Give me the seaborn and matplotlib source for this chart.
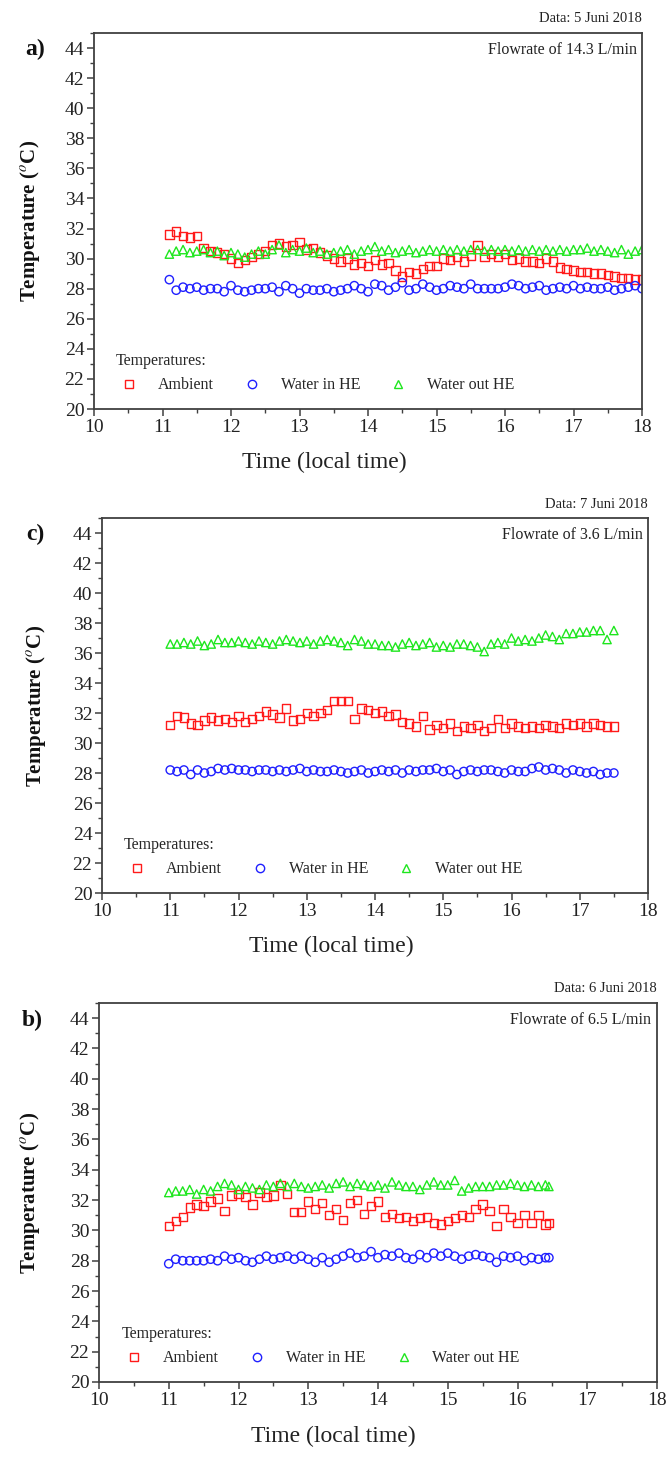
import numpy as np
import pandas as pd
import matplotlib
matplotlib.use("Agg")
import matplotlib.pyplot as plt
from matplotlib.lines import Line2D
from matplotlib.ticker import MultipleLocator
import seaborn as sns

# ---------------- data ----------------
time_a = [11.1, 11.2, 11.3, 11.4, 11.5, 11.6, 11.7, 11.8, 11.9, 12.0,
          12.1, 12.2, 12.3, 12.4, 12.5, 12.6, 12.7, 12.8, 12.9, 13.0,
          13.1, 13.2, 13.3, 13.4, 13.5, 13.6, 13.7, 13.8, 13.9, 14.0,
          14.1, 14.2, 14.3, 14.4, 14.5, 14.6, 14.7, 14.8, 14.9, 15.0,
          15.1, 15.2, 15.3, 15.4, 15.5, 15.6, 15.7, 15.8, 15.9, 16.0,
          16.1, 16.2, 16.3, 16.4, 16.5, 16.6, 16.7, 16.8, 16.9, 17.0,
          17.1, 17.2, 17.3, 17.4, 17.5, 17.6, 17.7, 17.8, 17.9, 18.0]
ambient_a = [31.6, 31.8, 31.5, 31.4, 31.5, 30.7, 30.5, 30.4, 30.3, 30.0,
             29.7, 29.9, 30.1, 30.3, 30.5, 30.9, 31.0, 30.8, 30.9, 31.1,
             30.6, 30.7, 30.4, 30.2, 30.0, 29.8, 30.0, 29.6, 29.7, 29.5,
             29.9, 29.6, 29.7, 29.2, 28.8, 29.1, 29.0, 29.3, 29.5, 29.5,
             30.0, 29.9, 30.1, 29.8, 30.2, 30.9, 30.1, 30.3, 30.1, 30.3,
             29.9, 30.0, 29.8, 29.8, 29.7, 30.0, 29.8, 29.4, 29.3, 29.2,
             29.1, 29.1, 29.0, 29.0, 28.9, 28.8, 28.7, 28.7, 28.6, 28.6]
water_in_a = [28.6, 27.9, 28.1, 28.0, 28.1, 27.9, 28.0, 28.0, 27.8, 28.2,
              27.9, 27.8, 27.9, 28.0, 28.0, 28.1, 27.8, 28.2, 28.0, 27.7,
              28.0, 27.9, 27.9, 28.0, 27.8, 27.9, 28.0, 28.2, 28.0, 27.8,
              28.3, 28.2, 27.9, 28.1, 28.4, 27.9, 28.0, 28.3, 28.1, 27.9,
              28.0, 28.2, 28.1, 28.0, 28.3, 28.0, 28.0, 28.0, 28.0, 28.1,
              28.3, 28.2, 28.0, 28.1, 28.2, 27.9, 28.0, 28.1, 28.0, 28.2,
              28.0, 28.1, 28.0, 28.0, 28.1, 27.9, 28.0, 28.1, 28.2, 28.0]
water_out_a = [30.3, 30.5, 30.6, 30.4, 30.5, 30.6, 30.4, 30.5, 30.2, 30.4,
               30.3, 30.1, 30.3, 30.5, 30.3, 30.6, 30.9, 30.4, 30.6, 30.5,
               30.7, 30.4, 30.5, 30.3, 30.4, 30.5, 30.6, 30.3, 30.5, 30.6,
               30.8, 30.5, 30.6, 30.4, 30.5, 30.6, 30.4, 30.5, 30.6, 30.5,
               30.6, 30.5, 30.6, 30.5, 30.6, 30.6, 30.5, 30.6, 30.5, 30.6,
               30.5, 30.6, 30.5, 30.6, 30.5, 30.6, 30.5, 30.6, 30.5, 30.6,
               30.6, 30.7, 30.5, 30.6, 30.5, 30.4, 30.6, 30.3, 30.5, 30.6]

time_c = [11.0, 11.1, 11.2, 11.3, 11.4, 11.5, 11.6, 11.7, 11.8, 11.9,
          12.0, 12.1, 12.2, 12.3, 12.4, 12.5, 12.6, 12.7, 12.8, 12.9,
          13.0, 13.1, 13.2, 13.3, 13.4, 13.5, 13.6, 13.7, 13.8, 13.9,
          14.0, 14.1, 14.2, 14.3, 14.4, 14.5, 14.6, 14.7, 14.8, 14.9,
          15.0, 15.1, 15.2, 15.3, 15.4, 15.5, 15.6, 15.7, 15.8, 15.9,
          16.0, 16.1, 16.2, 16.3, 16.4, 16.5, 16.6, 16.7, 16.8, 16.9,
          17.0, 17.1, 17.2, 17.3, 17.4, 17.5]
ambient_c = [31.2, 31.8, 31.7, 31.3, 31.2, 31.5, 31.7, 31.5, 31.6, 31.4,
             31.8, 31.4, 31.6, 31.8, 32.1, 31.9, 31.7, 32.3, 31.5, 31.6,
             32.0, 31.8, 32.0, 32.2, 32.8, 32.8, 32.8, 31.6, 32.3, 32.2,
             32.0, 32.1, 31.8, 31.9, 31.4, 31.3, 31.1, 31.8, 30.9, 31.2,
             31.0, 31.3, 30.8, 31.1, 31.0, 31.2, 30.8, 31.0, 31.6, 31.0,
             31.3, 31.1, 31.0, 31.1, 31.0, 31.2, 31.1, 31.0, 31.3, 31.2,
             31.3, 31.1, 31.3, 31.2, 31.1, 31.1]
water_in_c = [28.2, 28.1, 28.2, 27.9, 28.2, 28.0, 28.1, 28.3, 28.2, 28.3,
              28.2, 28.2, 28.1, 28.2, 28.2, 28.1, 28.2, 28.1, 28.2, 28.3,
              28.1, 28.2, 28.1, 28.1, 28.2, 28.1, 28.0, 28.1, 28.2, 28.0,
              28.1, 28.2, 28.1, 28.2, 28.0, 28.2, 28.1, 28.2, 28.2, 28.3,
              28.1, 28.2, 27.9, 28.1, 28.2, 28.1, 28.2, 28.2, 28.1, 28.0,
              28.2, 28.1, 28.1, 28.3, 28.4, 28.2, 28.3, 28.2, 28.0, 28.2,
              28.1, 28.0, 28.1, 27.9, 28.0, 28.0]
water_out_c = [36.6, 36.6, 36.7, 36.6, 36.8, 36.5, 36.6, 36.9, 36.7, 36.7,
               36.8, 36.7, 36.6, 36.8, 36.7, 36.6, 36.8, 36.9, 36.8, 36.7,
               36.8, 36.6, 36.8, 36.9, 36.8, 36.7, 36.5, 36.9, 36.8, 36.6,
               36.6, 36.5, 36.5, 36.4, 36.6, 36.7, 36.5, 36.6, 36.7, 36.4,
               36.5, 36.4, 36.6, 36.6, 36.5, 36.4, 36.1, 36.6, 36.7, 36.6,
               37.0, 36.8, 36.9, 36.8, 37.0, 37.2, 37.1, 36.9, 37.3, 37.3,
               37.4, 37.4, 37.5, 37.5, 36.9, 37.5]

time_b = [11.0, 11.1, 11.2, 11.3, 11.4, 11.5, 11.6, 11.7, 11.8, 11.9,
          12.0, 12.1, 12.2, 12.3, 12.4, 12.5, 12.6, 12.7, 12.8, 12.9,
          13.0, 13.1, 13.2, 13.3, 13.4, 13.5, 13.6, 13.7, 13.8, 13.9,
          14.0, 14.1, 14.2, 14.3, 14.4, 14.5, 14.6, 14.7, 14.8, 14.9,
          15.0, 15.1, 15.2, 15.3, 15.4, 15.5, 15.6, 15.7, 15.8, 15.9,
          16.0, 16.1, 16.2, 16.3, 16.4, 16.45]
ambient_b = [30.3, 30.6, 30.9, 31.5, 31.7, 31.6, 31.9, 32.1, 31.3, 32.3,
             32.4, 32.2, 31.7, 32.5, 32.2, 32.3, 33.0, 32.4, 31.2, 31.2,
             31.9, 31.4, 31.8, 31.0, 31.4, 30.7, 31.8, 32.0, 31.1, 31.6,
             31.9, 30.9, 31.1, 30.8, 30.9, 30.6, 30.8, 30.9, 30.5, 30.4,
             30.6, 30.8, 31.0, 30.9, 31.4, 31.7, 31.3, 30.3, 31.4, 30.9,
             30.5, 31.0, 30.5, 31.0, 30.4, 30.5]
water_in_b = [27.8, 28.1, 28.0, 28.0, 28.0, 28.0, 28.1, 28.0, 28.3, 28.1,
              28.2, 28.0, 27.9, 28.1, 28.3, 28.1, 28.2, 28.3, 28.1, 28.3,
              28.1, 27.9, 28.2, 27.9, 28.1, 28.3, 28.5, 28.2, 28.3, 28.6,
              28.2, 28.4, 28.3, 28.5, 28.2, 28.1, 28.4, 28.2, 28.5, 28.3,
              28.5, 28.3, 28.1, 28.3, 28.4, 28.3, 28.2, 27.9, 28.3, 28.2,
              28.3, 28.0, 28.2, 28.1, 28.2, 28.2]
water_out_b = [32.5, 32.6, 32.6, 32.7, 32.4, 32.7, 32.6, 32.9, 33.1, 33.0,
               32.7, 32.9, 32.8, 32.7, 33.0, 32.9, 33.1, 32.9, 33.1, 32.9,
               32.8, 32.9, 33.0, 32.8, 33.1, 33.2, 32.9, 33.1, 33.0, 32.9,
               33.0, 32.8, 33.2, 33.0, 32.9, 32.9, 32.7, 33.0, 33.2, 33.0,
               33.0, 33.3, 32.6, 32.8, 32.9, 32.9, 32.9, 33.0, 33.0, 33.1,
               33.0, 32.9, 33.0, 32.9, 33.0, 32.9]

series_names = ["Ambient", "Water in HE", "Water out HE"]
panel_letters = ["a)", "c)", "b)"]
panel_dates = ["Data: 5 Juni 2018", "Data: 7 Juni 2018", "Data: 6 Juni 2018"]
panel_flows = ["Flowrate of 14.3 L/min", "Flowrate of 3.6 L/min", "Flowrate of 6.5 L/min"]
x_ticks = [10, 11, 12, 13, 14, 15, 16, 17, 18]
y_ticks = [20, 22, 24, 26, 28, 30, 32, 34, 36, 38, 40, 42, 44]

panels = [
    (time_a, ambient_a, water_in_a, water_out_a),
    (time_c, ambient_c, water_in_c, water_out_c),
    (time_b, ambient_b, water_in_b, water_out_b),
]

# ---------------- style ----------------
sns.set_theme(style="ticks")
plt.rcParams["font.family"] = ["Liberation Serif", "DejaVu Serif"]
plt.rcParams["mathtext.fontset"] = "stix"

colors = {"Ambient": "#ff1a1a", "Water in HE": "#2020ff", "Water out HE": "#1ee61e"}
markers = {"Ambient": "s", "Water in HE": "o", "Water out HE": "^"}
spine_col = "#404040"

fig = plt.figure(figsize=(6.67, 14.57), dpi=100)
W, H = 667, 1457
# axes boxes in pixels: left, top, right, bottom
boxes = [(94, 33, 642, 409), (102, 518, 648, 893), (99, 1003, 657, 1382)]
ylab_x = [-0.095, -0.099, -0.102]
letter_x = [-0.09, -0.105, -0.10]

for i, (box, data) in enumerate(zip(boxes, panels)):
    l, t, r, b = box
    ax = fig.add_axes([l / W, 1 - b / H, (r - l) / W, (b - t) / H])
    tm, amb, win, wout = data
    df = pd.DataFrame({
        "time": list(tm) * 3,
        "temp": list(amb) + list(win) + list(wout),
        "series": ["Ambient"] * len(tm) + ["Water in HE"] * len(tm) + ["Water out HE"] * len(tm),
    })
    for name in series_names:
        sub = df[df["series"] == name]
        sns.scatterplot(data=sub, x="time", y="temp", marker=markers[name],
                        color=colors[name], s=36, ax=ax, legend=False)
        coll = ax.collections[-1]
        coll.set_facecolor("none")
        coll.set_edgecolor(colors[name])
        coll.set_linewidth(1.0)

    ax.set_xlim(10, 18)
    ax.set_ylim(20, 45)
    ax.set_xticks(x_ticks)
    ax.set_yticks(y_ticks)
    ax.xaxis.set_minor_locator(MultipleLocator(0.5))
    ax.yaxis.set_minor_locator(MultipleLocator(1))
    ax.tick_params(which="major", direction="out", length=5, width=1.1,
                   color=spine_col, labelsize=14, labelcolor="#222222", pad=2)
    ax.tick_params(which="minor", direction="out", length=3, width=1.0, color=spine_col)
    for sp in ax.spines.values():
        sp.set_visible(True)
        sp.set_linewidth(1.3)
        sp.set_color(spine_col)

    ax.set_xlabel("Time (local time)", fontsize=17, color="#222222")
    ax.xaxis.set_label_coords(0.42, -0.115)
    ax.set_ylabel(r"Temperature ($^{o}$C)", fontsize=15, fontweight="bold", color="#111111")
    ax.yaxis.set_label_coords(ylab_x[i], 0.5)

    ax.text(1.0, 1.02, panel_dates[i], transform=ax.transAxes, ha="right", va="bottom",
            fontsize=10.5, color="#222222")
    ax.text(0.99, 0.975, panel_flows[i], transform=ax.transAxes, ha="right", va="top",
            fontsize=11.5, color="#222222")
    ax.text(letter_x[i], 0.955, panel_letters[i], transform=ax.transAxes, ha="right", va="center",
            fontsize=17, fontweight="bold", color="#111111")

    handles = [Line2D([], [], linestyle="none", marker=markers[n], markersize=6,
                      markerfacecolor="none", markeredgecolor=colors[n], markeredgewidth=1.0)
               for n in series_names]
    leg = ax.legend(handles, series_names, title="Temperatures:", ncol=3, frameon=False,
                    loc="lower left", bbox_to_anchor=(0.02, 0.012), fontsize=11.5,
                    title_fontsize=11.5, handlelength=1.6, handletextpad=1.0,
                    columnspacing=1.6, borderaxespad=0.4, borderpad=0.3)
    leg._legend_box.align = "left"

fig.savefig("out.png", dpi=100)
